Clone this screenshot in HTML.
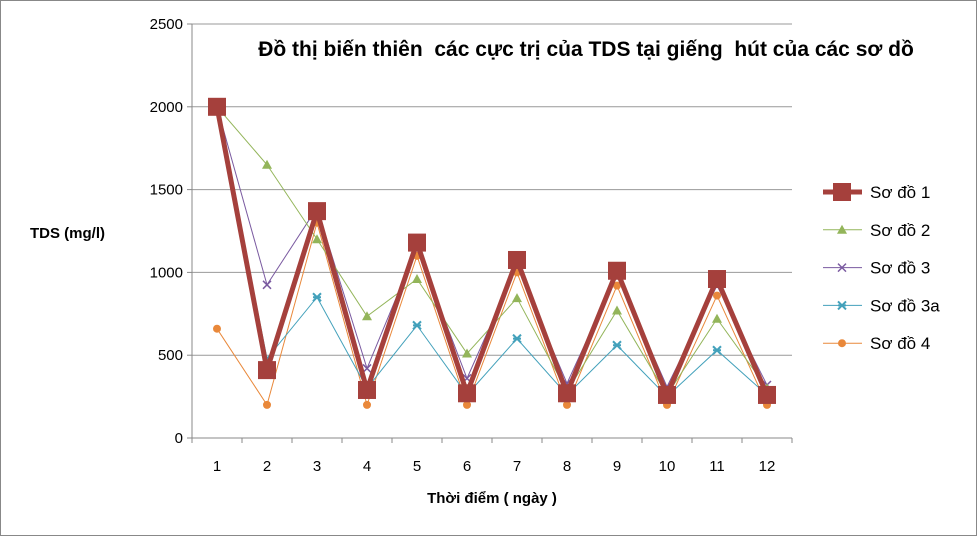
<!DOCTYPE html>
<html><head><meta charset="utf-8"><style>
body{margin:0;background:#fff;}
svg{display:block;font-family:"Liberation Sans",sans-serif;}
</style></head><body>
<svg width="977" height="536">
<rect x="0.5" y="0.5" width="976" height="535" fill="#fff" stroke="#888"/>
<g id="grid"></g><g id="series"></g><g id="legend"></g>
<text x="586" y="56" text-anchor="middle" font-size="21" font-weight="bold" style="white-space:pre" xml:space="preserve">Đồ thị biến thiên  các cực trị của TDS tại giếng  hút của các sơ dồ</text>
<text x="30" y="238" font-size="15" font-weight="bold">TDS (mg/l)</text>
<text x="492" y="503" text-anchor="middle" font-size="15" font-weight="bold">Thời điểm ( ngày )</text>
</svg>
<script>
const categories=[1,2,3,4,5,6,7,8,9,10,11,12];
const yTicks=[0,500,1000,1500,2000,2500];
const seriesNames=["Sơ đồ 1","Sơ đồ 2","Sơ đồ 3","Sơ đồ 3a","Sơ đồ 4"];
const s1=[2000,410,1370,290,1180,270,1075,270,1010,260,960,260];
const s2=[2000,1650,1200,735,960,510,845,280,770,260,720,300];
const s3=[2000,925,1390,420,1150,360,1040,330,990,310,920,320];
const s3a=[2000,480,850,300,680,260,600,260,560,250,530,260];
const s4=[660,200,1300,200,1100,200,1000,200,920,200,860,200];
const NS="http://www.w3.org/2000/svg";
const x=i=>217+(i)*50;
const y=v=>438-v*414/2500;
function mk(t,a,p){const e=document.createElementNS(NS,t);for(const k in a)e.setAttribute(k,a[k]);p.appendChild(e);return e;}
const grid=document.getElementById('grid');
yTicks.forEach(t=>{
 const l=mk('line',{x1:192,x2:792,y1:y(t),y2:y(t),stroke:t===0?'#888':'#999','stroke-width':1},grid);
 
 
 mk('line',{x1:187,x2:192,y1:y(t),y2:y(t),stroke:'#888'},grid);
 const tx=mk('text',{x:183,y:y(t)+5,'text-anchor':'end','font-size':15},grid);tx.textContent=t;
 
 
});
const ax=mk('line',{x1:192,x2:192,y1:24,y2:438,stroke:'#888'},grid);


categories.forEach((c,i)=>{
 mk('line',{x1:192+i*50,x2:192+i*50,y1:438,y2:443,stroke:'#888'},grid);
 const tx=mk('text',{x:x(i),y:471,'text-anchor':'middle','font-size':15},grid);tx.textContent=c;
 
 
});
mk('line',{x1:792,x2:792,y1:438,y2:443,stroke:'#888'},grid);
const styles=[
 {c:'#a5403c',w:5,m:'sq'},{c:'#93b55a',w:1,m:'tri'},{c:'#7a5aa0',w:1,m:'x'},{c:'#43a1bb',w:1,m:'star'},{c:'#e9883a',w:1,m:'dot'}];
const data=[s1,s2,s3,s3a,s4];
const sg=document.getElementById('series');
function marker(m,cx,cy,c,p){
 if(m==='sq')return mk('rect',{x:cx-9,y:cy-9,width:18,height:18,fill:c},p);
 if(m==='tri')return mk('polygon',{points:`${cx},${cy-5} ${cx+5},${cy+4} ${cx-5},${cy+4}`,fill:c},p);
 if(m==='x')return mk('path',{d:`M${cx-4} ${cy-4}L${cx+4} ${cy+4}M${cx+4} ${cy-4}L${cx-4} ${cy+4}`,stroke:c,'stroke-width':1.5},p);
 if(m==='star')return mk('path',{d:`M${cx-4} ${cy-4}L${cx+4} ${cy+4}M${cx+4} ${cy-4}L${cx-4} ${cy+4}M${cx-4} ${cy}L${cx+4} ${cy}`,stroke:c,'stroke-width':2},p);
 return mk('circle',{cx,cy,r:4,fill:c},p);
}
[4,3,2,1,0].forEach(k=>{
 const st=styles[k],d=data[k];
 const g=mk('g',{},sg);
 
 
 mk('polyline',{points:d.map((v,i)=>x(i)+','+y(v)).join(' '),fill:'none',stroke:st.c,'stroke-width':st.w},g);
 d.forEach((v,i)=>{const e=marker(st.m,x(i),y(v),st.c,g);
  
  });
});
const lg=document.getElementById('legend');
seriesNames.forEach((n,k)=>{
 const st=styles[k],ly=192+k*37.8;
 const g=mk('g',{},lg);
 
 
 mk('line',{x1:823,x2:862,y1:ly,y2:ly,stroke:st.c,'stroke-width':st.w},g);
 marker(st.m,842,ly,st.c,g);
 const t=mk('text',{x:870,y:ly+6,'font-size':17},g);t.textContent=n;
});
</script>
</body></html>
